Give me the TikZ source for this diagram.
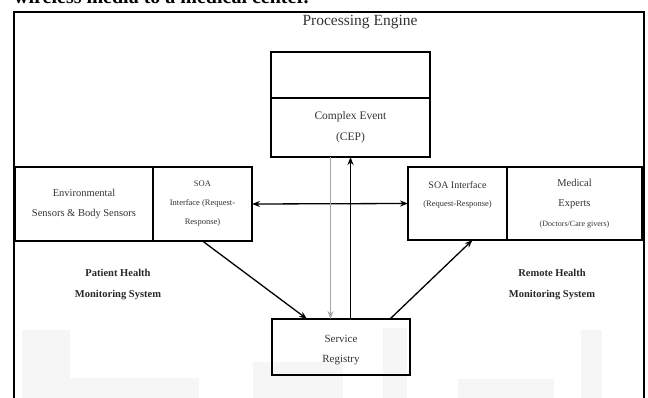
\documentclass[tikz,border=0pt]{standalone}
\usepackage{fontspec}
\setmainfont{Liberation Serif}
\usetikzlibrary{arrows.meta}
\newcommand{\fs}[2]{\fontsize{#1}{#2}\selectfont}
\begin{document}
\begin{tikzpicture}[x=1pt,y=-1pt,>={Stealth[length=8pt,width=6pt]},
    box/.style={draw,line width=1.4pt,inner sep=0pt,outer sep=0pt,anchor=north west,align=center,text=black!80},
    lbl/.style={align=center,text=black!85,font=\bfseries\fs{10.5}{21}},
    arr/.style={->,line width=1.3pt}]
  \useasboundingbox (0,0) rectangle (648,398);
  % faint watermark behind the page
  \fill[gray!7] (22,330) rectangle (70,398);
  \fill[gray!7] (70,378) rectangle (199,398);
  \fill[gray!7] (253,362) rectangle (343,398);
  \fill[gray!7] (383,328) rectangle (407,398);
  \fill[gray!7] (458,379) rectangle (554,398);
  \fill[gray!7] (581,330) rectangle (602,398);
  \node[anchor=base west,inner sep=0pt,font=\bfseries\fs{20}{22}] (cap) at (14,4) {wireless media to a medical center.};
  \draw[line width=2pt] (14,400) -- (14,12) -- (644,12) -- (644,400);
  \node[text=black!80,font=\fs{15.5}{17}] (title) at (360,22) {Processing Engine};
  % processing engine
  \node[box,minimum width=159pt,minimum height=46pt] (ceptop) at (271,52) {};
  \node[box,minimum width=159pt,minimum height=59pt,font=\fs{11.5}{21}] (cep) at (271,98) {Complex Event\\(CEP)};
  % patient side
  \node[box,minimum width=138pt,minimum height=74pt,font=\fs{10.5}{20}] (env) at (15,167) {Environmental\\Sensors \& Body Sensors};
  \node[box,minimum width=99pt,minimum height=74pt,font=\fs{8.5}{19}] (soaL) at (153,167) {SOA\\Interface (Request-\\Response)};
  % remote side
  \node[box,minimum width=99pt,minimum height=73pt,font=\fs{8.5}{18}] (soaR) at (408,167) {{\fs{10}{18}SOA Interface}\\(Request-Response)\\[1pt]};
  \node[box,minimum width=135pt,minimum height=73pt,font=\fs{10.5}{20}] (med) at (507,167) {Medical\\Experts\\{\fs{8}{18}(Doctors/Care givers)}};
  \node[box,minimum width=138pt,minimum height=56pt,font=\fs{11}{20}] (reg) at (272,319) {\\[-6pt]Service\\Registry};
  \node[lbl] (pat) at (118,285) {Patient Health\\Monitoring System};
  \node[lbl] (rem) at (552,285) {Remote Health\\Monitoring System};
  % connectors
  \draw[arr,<->] (soaL.east) -- (soaR.west);
  \draw[arr,gray!70,line width=1pt] ([xshift=-20pt]cep.south) -- ([xshift=-20pt]cep.south |- reg.north);
  \draw[arr] (reg.north -| cep.south) -- (cep.south);
  \draw[arr] (soaL.south) -- ([xshift=35pt]reg.north west);
  \draw[arr] ([xshift=-20pt]reg.north east) -- ([xshift=15pt]soaR.south);
\end{tikzpicture}
\end{document}
